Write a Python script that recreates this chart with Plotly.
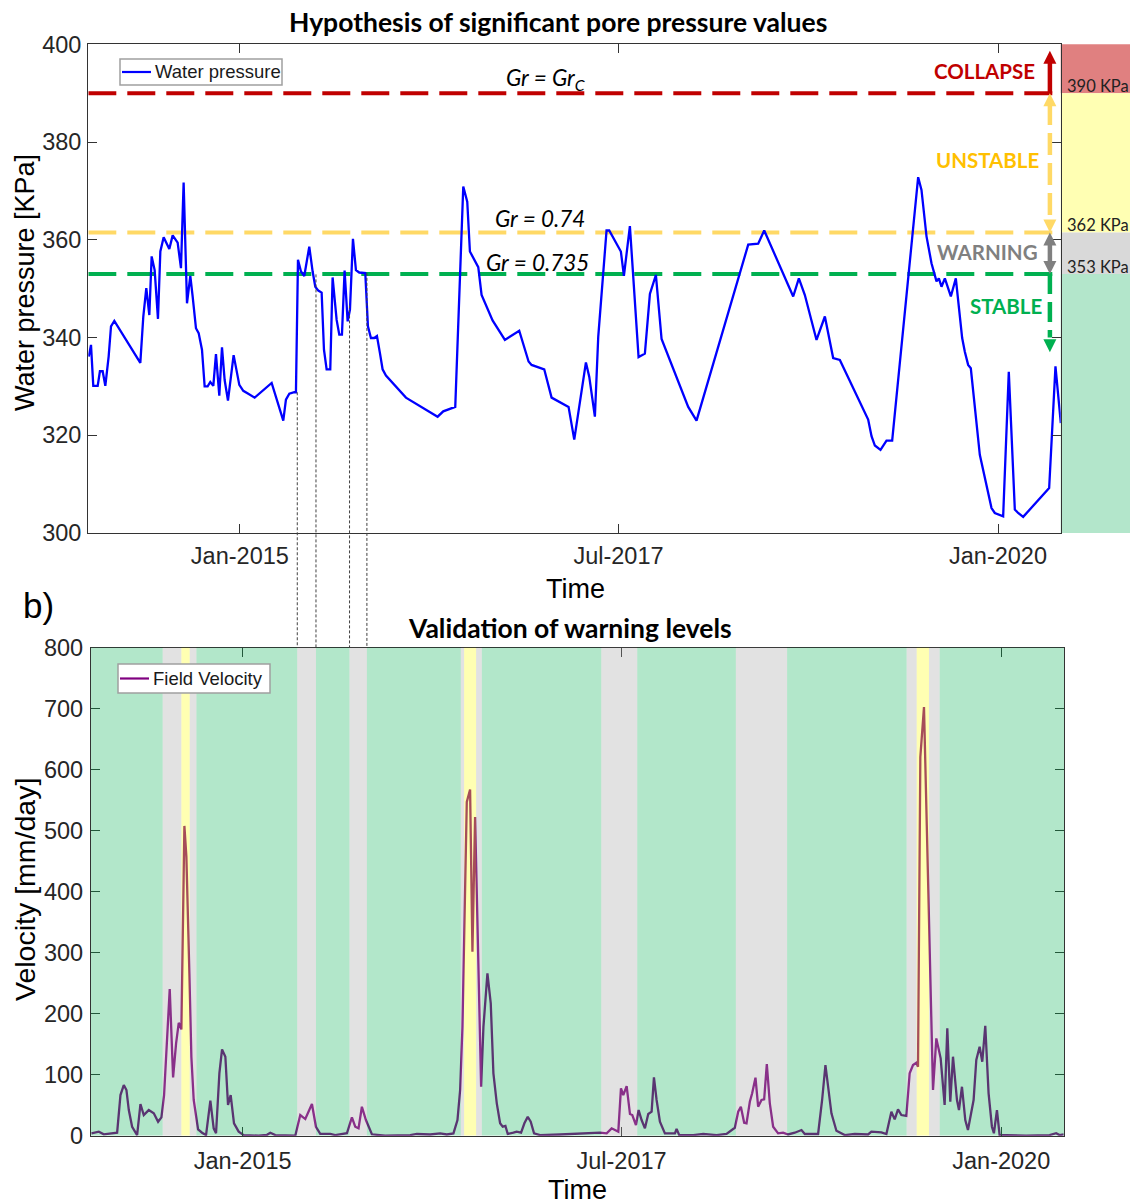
import numpy as np
import pandas as pd
import plotly.graph_objects as go

W, H = 1130, 1204
T0 = pd.Timestamp("2014-01-01")
T_END = pd.Timestamp("2020-05-31")

# ---------------- data ----------------
# water pressure record (days since 1 Jan 2014, kPa)
wp_day = [1, 6.5, 12, 22.6, 28, 34.6, 41, 49, 54.7, 62.7, 125.3, 132.5, 139.7, 147, 152.6,
          159.8, 167.8, 173.5, 181.5, 195.1, 203.2, 215.2, 223.2, 229.6, 237.7, 245.7, 251.3,
          259.3, 265.8, 273.8, 280.2, 287.4, 293.8, 301.1, 307.5, 315.5, 322, 328.4, 336.4,
          350, 363.7, 373.3, 385.3, 400.6, 441.6, 469.6, 476, 484.1, 496.1, 500.1, 505, 512.2,
          520.2, 532.2, 540.3, 546.7, 553.9, 562, 567.6, 574, 582.8, 588.4, 598.1, 604.5,
          610.9, 617.3, 624.6, 630.2, 637.4, 644.6, 652.6, 667.1, 673.5, 680.7, 688.8, 695.2,
          702.4, 708.8, 716.9, 765, 841.3, 854.9, 883.8, 903.1, 912.7, 919.1, 939.2, 947.2,
          973.7, 1003.4, 1037.9, 1060.4, 1067.6, 1098.1, 1115.8, 1156.7, 1170.4, 1198.5,
          1206.5, 1220.1, 1228.2, 1248.2, 1254.6, 1282.7, 1290, 1304.4, 1325.3, 1340.5,
          1352.6, 1367, 1380.7, 1444.9, 1464.9, 1589.4, 1613.4, 1627.9, 1697.7, 1711.4,
          1725.8, 1753.9, 1774, 1794, 1810.1, 1878.3, 1886.4, 1894.4, 1908, 1922.5, 1936.1,
          1998.7, 2006.7, 2018.8, 2030.8, 2042.9, 2048.5, 2054.9, 2063, 2077.4, 2089.4,
          2104.7, 2111.1, 2119.1, 2125.5, 2147.2, 2175.3, 2183.3, 2203.4, 2217, 2231.5,
          2239.5, 2251.6, 2314.2, 2329.4, 2342.3]
wp_kpa = [336.1, 338.5, 330.1, 330.1, 333.1, 333.1, 330.1, 336.1, 342.3, 343.4, 334.8, 344.3,
          350.1, 344.6, 356.6, 353.8, 343.8, 357.6, 360.5, 358.1, 360.9, 359.4, 354.2, 371.7,
          347, 352.6, 348.4, 341.9, 340.9, 337.5, 330, 330, 330.9, 330.1, 336.6, 328.1, 338,
          331.3, 327.1, 336.4, 330.3, 329.1, 328.5, 327.7, 330.7, 323, 327.3, 328.5, 328.8,
          328.8, 355.9, 353.5, 352.6, 358.6, 353.5, 350.4, 349.6, 349.2, 337.5, 333.5, 333.5,
          352.3, 343.6, 340.6, 340.6, 353.7, 343.3, 345.7, 360.2, 353.8, 353.3, 353.2, 342.3,
          339.9, 339.9, 340.3, 336.8, 333.5, 332.2, 327.7, 323.8, 324.9, 325.8, 370.9, 367.8,
          357.6, 354.4, 348.7, 343.5, 339.5, 341.4, 335.1, 334.4, 333.5, 327.7, 325.8, 319.1,
          334.9, 332, 323.8, 340.2, 361.9, 361.9, 357.6, 352.6, 362.8, 336, 336.7, 348.9,
          352.8, 339.7, 325.8, 323, 359, 359.2, 361.9, 348.4, 352.1, 348.7, 339.5, 344.3,
          335.8, 335.4, 323.2, 319.8, 317.9, 317, 318.9, 318.9, 372.8, 370.2, 360.7, 355.2,
          351.5, 352.1, 350.4, 352.1, 348.4, 352.1, 339.9, 337.1, 334.4, 333.7, 316, 305.1,
          304.1, 303.4, 333, 304.8, 304.1, 303.3, 309.2, 334.1, 322.5]

# field velocity record (days since 1 Jan 2014, mm/day)
vel_day = [1.2, 18.8, 30.8, 50.9, 62.9, 70.9, 78.9, 85.3, 91, 99, 111, 119, 127, 139, 151.1,
           161.5, 169.5, 175.9, 183.1, 189.5, 197.6, 204.8, 211.2, 217.6, 224.8, 229.6, 236.8,
           241.6, 247.2, 257.7, 267.3, 276.9, 287.3, 295.3, 301, 309, 315.4, 323.4, 329.8,
           336.2, 344.2, 355.5, 367.5, 403.5, 423.6, 431.6, 443.6, 491.7, 503.7, 515.8, 531.8,
           541.4, 551.8, 575.9, 587.9, 616, 628, 636, 644, 652, 661.7, 676.1, 708.1, 768.3,
           784.3, 816.3, 840.4, 856.4, 872.4, 882.1, 888.5, 894.1, 904.5, 912.5, 918.1, 924.5,
           939, 944.6, 954.2, 962.2, 968.6, 976.7, 984.7, 991.1, 997.5, 1003.1, 1016.7,
           1024.7, 1035.2, 1043.2, 1051.2, 1058.4, 1066.4, 1080.9, 1128.9, 1161, 1209.1,
           1225.1, 1241.2, 1253.2, 1261.2, 1269.2, 1275.6, 1281.2, 1289.3, 1297.3, 1302.9,
           1311.7, 1318.1, 1325.3, 1333.3, 1341.3, 1349.4, 1355, 1361.4, 1369.4, 1381.4,
           1405.5, 1409.5, 1415.9, 1449.5, 1473.6, 1505.7, 1529.7, 1549.7, 1557.8, 1564.2,
           1572.2, 1577.8, 1585.8, 1591.4, 1599.4, 1605.8, 1613.9, 1620.3, 1626.7, 1633.9,
           1641.9, 1653.9, 1665.9, 1678, 1694, 1710.1, 1718.1, 1750.1, 1759.8, 1767.8,
           1775.8, 1782.2, 1794.2, 1804.6, 1814.3, 1838.3, 1870.4, 1878.4, 1902.4, 1914.5,
           1926.5, 1934.5, 1942.5, 1950.5, 1962.5, 1970.5, 1978.6, 1986.6, 1990.6, 1996.2,
           2005, 2026.7, 2034.7, 2045.1, 2054.7, 2061.1, 2068.3, 2074.8, 2084.4, 2089.2,
           2096.4, 2104.4, 2110.8, 2124.4, 2130.9, 2138.9, 2145.3, 2152.5, 2160.5, 2168.5,
           2173.3, 2180.6, 2187, 2203, 2251.1, 2307.2, 2323.2, 2331.2, 2340.9]
vel_mm = [4, 6.6, 2.3, 4, 4.9, 66.6, 83, 74.8, 42, 14.7, 1, 51.9, 33.9, 42, 36.7, 22.9, 30.1,
          66.6, 156.7, 240.2, 95.6, 151.3, 185, 174.2, 507.6, 456.9, 265.9, 129.4, 58.5, 10.5,
          4.9, 1, 57.3, 12.1, 4, 102.2, 141.5, 129.4, 50.3, 66.6, 20.3, 6.6, 1, 0, 1.5, 4.9, 1,
          0, 33.9, 27.3, 51.9, 14.7, 2.9, 2.9, 1, 4, 30.1, 14.7, 12.1, 47.5, 25.7, 2.3, 0, 1,
          2.8, 2, 3.8, 2, 3.8, 25.7, 74.8, 178.5, 546.9, 567.2, 301.3, 522.4, 80.2, 178.5,
          265.9, 216.8, 102.2, 53, 20.3, 14.7, 15.9, 2.8, 4.9, 6.6, 4.9, 20.3, 31.1, 22.9, 3.8,
          1, 2, 2.8, 3.8, 4.9, 3.8, 12.1, 9.3, 6.6, 77.6, 66.6, 81.3, 35.5, 33.9, 17.5, 42,
          25.7, 12.1, 35.5, 39.3, 95.6, 58.5, 22.9, 3.8, 3.8, 11, 1, 1, 2.8, 1, 2.8, 13, 39.3,
          47.5, 21.3, 20.3, 55.7, 69.4, 95, 47.5, 58.5, 59.6, 117.4, 53, 14.7, 3.8, 4.9, 2,
          4.9, 9.3, 2.8, 2.8, 58.5, 115.8, 74.8, 36.7, 8.2, 4.9, 1, 2.8, 2, 6.6, 5.5, 2.8, 39.3,
          26.8, 43.1, 33.9, 32.3, 102.2, 115.8, 119.5, 113, 620.6, 702.5, 74.8, 159.5, 126.7,
          50.3, 175.9, 55.7, 129.4, 58.5, 42, 80.2, 25.7, 9.3, 58.5, 124, 145.7, 121.2, 180.2,
          69.4, 14.7, 4, 42, 1, 1, 0, 1, 4, 1, 2]

# pore-pressure thresholds (kPa)
collapse_kpa = 390
unstable_kpa = 361.5
warning_kpa = 353
level_text = ["390 KPa", "362 KPa", "353 KPa"]

# warning-state periods (days since 1 Jan 2014)
warning_start = [172.6, 237.6, 496.5, 622.3, 890.2, 927, 1228.3, 1552.2, 1963.3, 2017]
warning_end = [217.6, 253.7, 541.5, 664.1, 898.1, 940.7, 1314.8, 1675.5, 1987.4, 2042.7]
unstable_start = [217.6, 898.1, 1987.4]
unstable_end = [237.6, 927, 2017]
# warning periods tied to the pressure panel by connector lines
linked_periods = [2, 3]

# ---------------- layout helpers ----------------
def day(d):
    return T0 + pd.to_timedelta(d, unit="D")

def fx(px):
    return px / W

def fy(py):
    return 1 - py / H

TOP_X = [fx(88.3), fx(1060.7)]
TOP_Y = [fy(533), fy(44.3)]
BOT_X = [fx(91), fx(1064)]
BOT_Y = [fy(1135.7), fy(647.5)]
P_RANGE = [300, 400]
V_RANGE = [0, 800]

def top_paper(v):
    return TOP_Y[0] + (v - P_RANGE[0]) / (P_RANGE[1] - P_RANGE[0]) * (TOP_Y[1] - TOP_Y[0])

AX_FONT = "Liberation Sans, Arial, sans-serif"
CAL_FONT = "Lato, Liberation Sans, sans-serif"
RED, YEL, GRY, GRN = "#c00000", "#ffd966", "#808080", "#00b050"
WP_COLOR, VEL_COLOR = "#0000ff", "#800080"

wp_dates = day(np.array(wp_day))
vel_dates = day(np.array(vel_day))

fig = go.Figure()
fig.add_trace(go.Scatter(x=wp_dates, y=wp_kpa, mode="lines", name="Water pressure",
                         line=dict(color=WP_COLOR, width=2.3), xaxis="x", yaxis="y",
                         showlegend=False))
fig.add_trace(go.Scatter(x=vel_dates, y=vel_mm, mode="lines", name="Field Velocity",
                         line=dict(color=VEL_COLOR, width=2.3), xaxis="x2", yaxis="y2",
                         showlegend=False))

shapes = []
# threshold lines
for lvl, col in [(collapse_kpa, RED), (unstable_kpa, YEL), (warning_kpa, GRN)]:
    shapes.append(dict(type="line", xref="x", yref="y", x0=T0, x1=T_END, y0=lvl, y1=lvl,
                       line=dict(color=col, width=4, dash="28px,11px"), layer="below"))

# state colour bar at the right of the pressure panel
bar = [(collapse_kpa, P_RANGE[1], "#e08080"), (unstable_kpa, collapse_kpa, "#ffffb3"),
       (warning_kpa, unstable_kpa, "#d9d9d9"), (P_RANGE[0], warning_kpa, "#b3e6cb")]
for lo, hi, col in bar:
    shapes.append(dict(type="rect", xref="paper", yref="paper", x0=TOP_X[1], x1=1.0,
                       y0=top_paper(lo), y1=top_paper(hi), fillcolor=col, line=dict(width=0),
                       layer="below"))

# state arrows
AX = day(2316)
def shaft(y0, y1, col, dash):
    shapes.append(dict(type="line", xref="x", yref="y", x0=AX, x1=AX, y0=y0, y1=y1,
                       line=dict(color=col, width=4.5, dash=dash), layer="above"))

def head(tip, col, up):
    s = -13 if up else 13
    shapes.append(dict(type="path", xref="x", yref="y", xsizemode="pixel", ysizemode="pixel",
                       xanchor=AX, yanchor=tip,
                       path=f"M -6.5 {s} L 6.5 {s} L 0 0 Z", fillcolor=col,
                       line=dict(width=0), layer="above"))

shaft(collapse_kpa, 396.2, RED, "solid")
head(398.7, RED, True)
shaft(388, 364, YEL, "22px,8px")
head(collapse_kpa, YEL, True)
head(unstable_kpa, YEL, False)
shaft(359.5, 355, GRY, "solid")
head(unstable_kpa, GRY, True)
head(warning_kpa, GRY, False)
shaft(warning_kpa, 340, GRN, "20px,8px")
head(337, GRN, False)

# velocity panel background: warning / unstable / stable periods
periods = [(a, b, "warn") for a, b in zip(warning_start, warning_end)] + \
          [(a, b, "unst") for a, b in zip(unstable_start, unstable_end)]
periods.sort()
fills = {"warn": "rgb(160,160,160)", "unst": "rgb(255,255,0)", "stab": "rgb(0,176,80)"}
cursor = 0
spans = []
for a, b, k in periods:
    if a > cursor:
        spans.append((cursor, a, "stab"))
    spans.append((a, b, k))
    cursor = b
spans.append((cursor, (T_END - T0).days, "stab"))
for a, b, k in spans:
    shapes.append(dict(type="rect", xref="x2", yref="y2", x0=day(a), x1=day(b),
                       y0=V_RANGE[0], y1=V_RANGE[1], fillcolor=fills[k], opacity=0.3,
                       line=dict(width=0), layer="above"))

# connectors from the pressure record down to the velocity panel
for i in linked_periods:
    for d in (warning_start[i], warning_end[i]):
        v = float(np.interp(d, wp_day, wp_kpa))
        shapes.append(dict(type="line", xref="x2", yref="paper", x0=day(d), x1=day(d),
                           y0=top_paper(v), y1=BOT_Y[1],
                           line=dict(color="#404040", width=1, dash="3px,2px"),
                           layer="above"))

ann = []
def text(x, y, s, size, color="black", family=AX_FONT, **kw):
    kw.setdefault("xanchor", "center")
    kw.setdefault("yanchor", "middle")
    ann.append(dict(x=x, y=y, text=s, showarrow=False,
                    font=dict(size=size, color=color, family=family), **kw))

# boxed legends (frame, line sample, label)
def legend_box(x0, x1, y0, y1, label, col):
    shapes.append(dict(type="rect", xref="paper", yref="paper", x0=fx(x0), x1=fx(x1),
                       y0=fy(y1), y1=fy(y0), fillcolor="white",
                       line=dict(color="#a0a0a0", width=1.5), layer="above"))
    ym = (y0 + y1) / 2
    shapes.append(dict(type="line", xref="paper", yref="paper", x0=fx(x0 + 2),
                       x1=fx(x0 + 31), y0=fy(ym), y1=fy(ym),
                       line=dict(color=col, width=2.2), layer="above"))
    text(fx(x0 + 33), fy(ym), label, 18.5, color="#1a1a1a", xref="paper", yref="paper",
         xanchor="left")

legend_box(120, 282, 59, 85, "Water pressure", WP_COLOR)
legend_box(118, 270, 664, 693, "Field Velocity", VEL_COLOR)

# titles and axis labels
text(fx(558), fy(22), "<b>Hypothesis of significant pore pressure values</b>", 26.5,
     family=CAL_FONT, xref="paper", yref="paper")
text(fx(570), fy(628), "<b>Validation of warning levels</b>", 26.5, family=CAL_FONT,
     xref="paper", yref="paper")
text(fx(38), fy(605), "b)", 35, xref="paper", yref="paper")
text(fx(575), fy(589), "Time", 27, xref="paper", yref="paper")
text(fx(577), fy(1190), "Time", 27, xref="paper", yref="paper")
text(fx(25), fy(283), "Water pressure [KPa]", 27, xref="paper", yref="paper", textangle=-90)
text(fx(25), fy(890), "Velocity [mm/day]", 28.5, xref="paper", yref="paper", textangle=-90)

# threshold labels
text(day(1100), collapse_kpa, "<i>Gr = Gr<sub>C</sub></i>", 22.5, family=CAL_FONT,
     xref="x", yref="y", yanchor="bottom", yshift=-3)
text(day(1088), unstable_kpa, "<i>Gr = 0.74</i>", 22.5, family=CAL_FONT,
     xref="x", yref="y", yanchor="bottom", yshift=-2)
text(day(1083), warning_kpa, "<i>Gr = 0.735</i>", 22.5, family=CAL_FONT,
     xref="x", yref="y", yanchor="bottom", yshift=-4)

# state names
for s, col, yv, xr in [("COLLAPSE", RED, 394.5, 2286), ("UNSTABLE", "#ffc000", 376.3, 2294),
                       ("WARNING", GRY, 357.5, 2291), ("STABLE", GRN, 346.5, 2302)]:
    text(day(xr), yv, f"<b>{s}</b>", 20.5, color=col, family=CAL_FONT,
         xref="x", yref="y", xanchor="right")

# level values on the colour bar
for lvl, s in zip([collapse_kpa, unstable_kpa, warning_kpa], level_text):
    text(fx(1065), top_paper(lvl), s, 16.5, color="#222222", family=CAL_FONT,
         xref="paper", yref="paper", xanchor="left", yanchor="bottom", yshift=-5)

axis_common = dict(showline=True, mirror="ticks", linecolor="#333333", linewidth=1.3,
                   ticks="inside", ticklen=9, tickwidth=1.3, tickcolor="#333333",
                   showgrid=False, zeroline=False, automargin=False,
                   tickfont=dict(family=AX_FONT, size=23.5, color="#262626"))
tick_dates = [pd.Timestamp("2015-01-01"), pd.Timestamp("2017-07-01"), pd.Timestamp("2020-01-01")]

fig.update_layout(
    width=W, height=H, margin=dict(l=0, r=0, t=0, b=0, autoexpand=False),
    paper_bgcolor="white", plot_bgcolor="white", showlegend=False,
    xaxis=dict(domain=TOP_X, anchor="y", range=[T0, T_END], tickvals=tick_dates,
               ticktext=[t.strftime("%b-%Y") for t in tick_dates], ticklabelstandoff=2,
               **axis_common),
    yaxis=dict(domain=TOP_Y, anchor="x", range=P_RANGE, tickvals=list(range(300, 401, 20)),
               ticklabelstandoff=1, **axis_common),
    xaxis2=dict(domain=BOT_X, anchor="y2", range=[T0, T_END], tickvals=tick_dates,
                ticktext=[t.strftime("%b-%Y") for t in tick_dates], ticklabelstandoff=4,
                **axis_common),
    yaxis2=dict(domain=BOT_Y, anchor="x2", range=V_RANGE, tickvals=list(range(0, 801, 100)),
                ticklabelstandoff=2, **axis_common),
    shapes=shapes, annotations=ann,
)

fig.write_html("out.html")
